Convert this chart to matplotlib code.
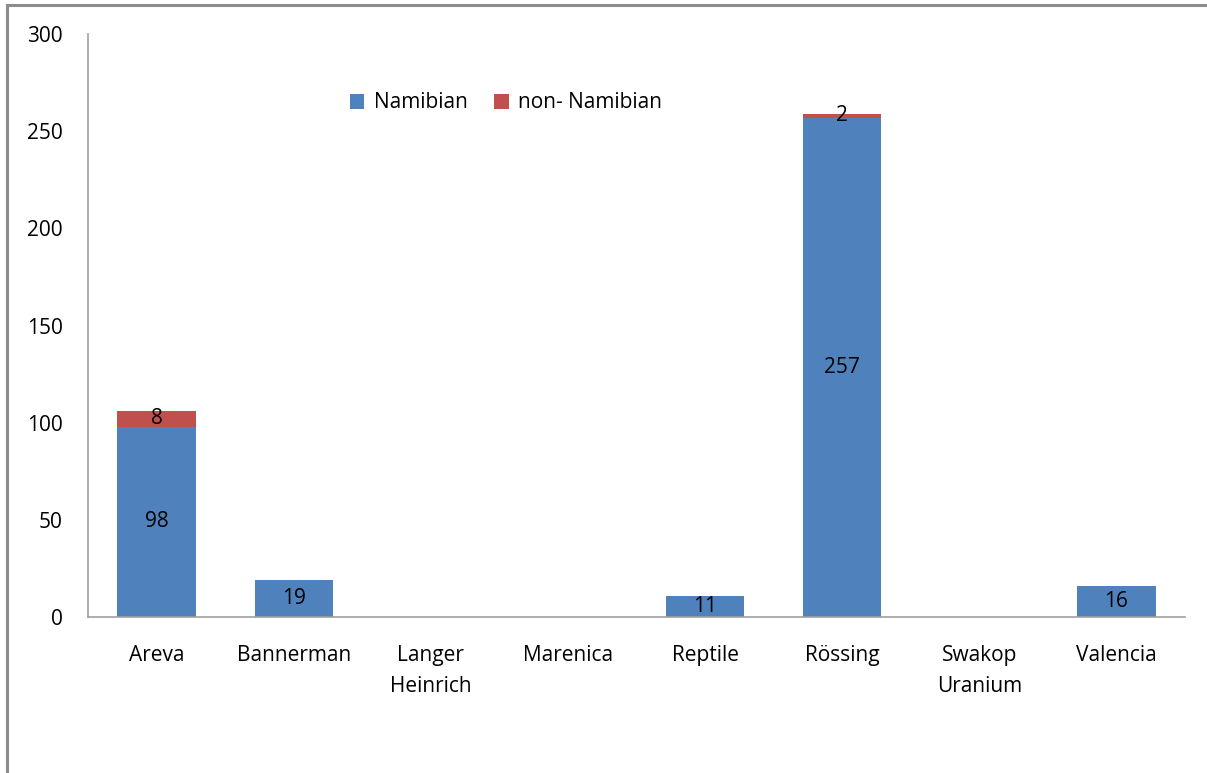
import matplotlib
matplotlib.use("Agg")
import matplotlib.pyplot as plt
from matplotlib.lines import Line2D
import numpy as np

categories = ["Areva", "Bannerman", "Langer\nHeinrich", "Marenica", "Reptile",
              "Rössing", "Swakop\nUranium", "Valencia"]
namibian = [98, 19, 0, 0, 11, 257, 0, 16]
non_namibian = [8, 0, 0, 0, 0, 2, 0, 0]
yticks = [0, 50, 100, 150, 200, 250, 300]

plt.rcParams['font.family'] = ['Open Sans', 'DejaVu Sans']
FS = 15

fig = plt.figure(figsize=(12.07, 7.73), dpi=100)
ax = fig.add_axes([88/1207, 1-617/773, (1185-88)/1207, (617-34)/773])

x = np.arange(len(categories))
blue = "#4F81BD"
red = "#C0504D"
w = 0.57
ax.bar(x, namibian, w, color=blue, label="Namibian")
ax.bar(x, non_namibian, w, bottom=namibian, color=red, label="non- Namibian")

for i, v in enumerate(namibian):
    if v > 0:
        ax.text(x[i], v/2, str(v), ha="center", va="center", fontsize=FS, color="black")
for i, v in enumerate(non_namibian):
    if v > 0:
        ax.text(x[i], namibian[i] + v/2, str(v), ha="center", va="center", fontsize=FS, color="black")

ax.set_xlim(-0.5, len(categories) - 0.5)
ax.set_ylim(0, 300)
ax.set_yticks(yticks)
ax.set_xticks(x)
ax.set_xticklabels(categories, fontsize=FS, linespacing=1.65)
ax.tick_params(axis="y", length=0, pad=18, labelsize=FS)
ax.tick_params(axis="x", length=0, pad=20)
for s in ["top", "right"]:
    ax.spines[s].set_visible(False)
for s in ["left", "bottom"]:
    ax.spines[s].set_color("#A0A0A0")
    ax.spines[s].set_linewidth(1.2)

ax.legend(loc="center", bbox_to_anchor=(506/1207, 1-103/773),
          bbox_transform=fig.transFigure, ncol=2, frameon=False,
          fontsize=FS, handlelength=0.7, handleheight=0.7,
          handletextpad=0.45, columnspacing=1.3)

# outer chart border (top and left visible)
fig.add_artist(Line2D([7/1207, 7/1207], [0, 1-5/773], transform=fig.transFigure,
                      color="#8C8C8C", linewidth=2.2))
fig.add_artist(Line2D([7/1207, 1], [1-5/773, 1-5/773], transform=fig.transFigure,
                      color="#8C8C8C", linewidth=2.2))

fig.savefig("out.png", dpi=100)
